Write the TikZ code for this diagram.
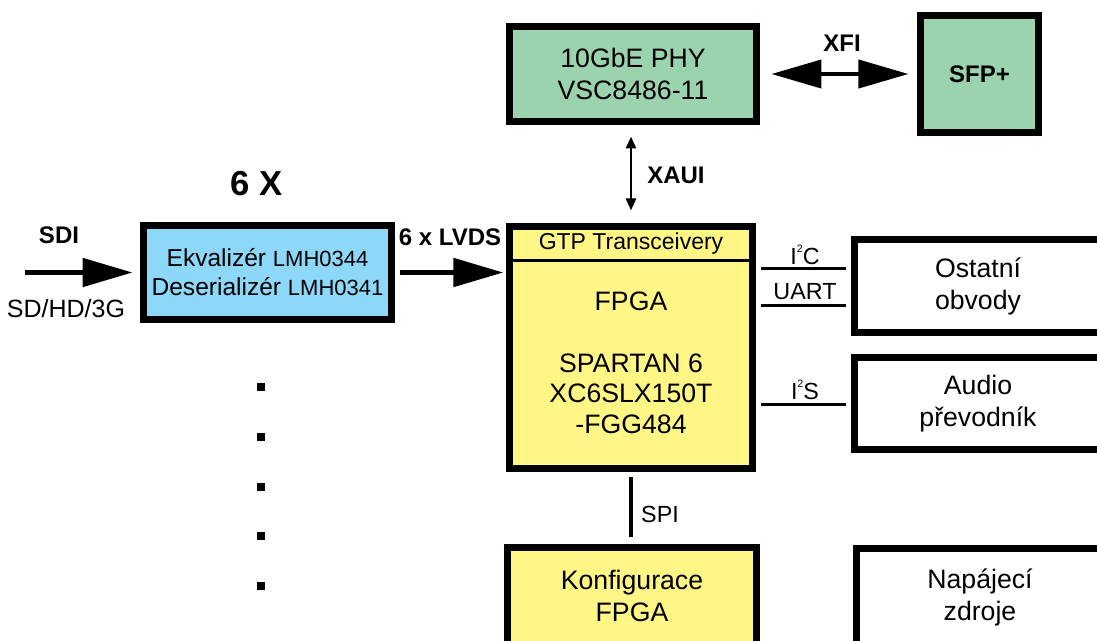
\documentclass[tikz,border=0pt]{standalone}
\usepackage{fontspec}
\setmainfont{Liberation Sans}
\usetikzlibrary{arrows.meta}
\definecolor{phygreen}{RGB}{155,211,174}
\definecolor{serblue}{RGB}{141,216,248}
\definecolor{fpgayellow}{RGB}{255,246,133}
\newcommand{\sq}[1]{\raisebox{0.5em}{\fontsize{8}{8}\selectfont #1}}
\newcommand{\chipfont}{\fontsize{16.5}{21.75}\selectfont}

\begin{document}
\begin{tikzpicture}[x=0.75pt, y=-0.75pt,
    block/.style={draw=black, line width=5.25pt, inner sep=0pt, align=center,
        font=\fontsize{20}{24}\selectfont},
    txt/.style={inner sep=0pt, align=center, font=\fontsize{17.5}{21}\selectfont},
    lbl/.style={inner sep=0pt, font=\fontsize{18}{21}\selectfont\bfseries},
    bus/.style={line width=2.25pt, shorten <=3.4pt, shorten >=3.4pt},
    bigarrow/.style={line width=3.75pt, -{Triangle[length=37.5pt, width=21pt]}},
    dot/.style={fill=black, minimum size=6pt, inner sep=0pt}
]
    \useasboundingbox (0,0) rectangle (1097,640);

    % blocks
    \node[block, fill=phygreen, minimum width=185.25pt, minimum height=71.25pt]
        (phy) at (633,74) {10GbE PHY\\VSC8486-11};
    \node[block, fill=phygreen, minimum width=88.5pt, minimum height=87.75pt,
        font=\fontsize{18}{21}\selectfont\bfseries] (sfp) at (979.5,74) {SFP+};
    \node[block, fill=serblue, minimum width=186pt, minimum height=70.5pt,
        font=\fontsize{18.4}{21.75}\selectfont]
        (deser) at (267.5,272.5) {Ekvalizér {\chipfont LMH0344}\\Deserializér {\chipfont LMH0341}};
    \node[block, fill=fpgayellow, minimum width=182.25pt, minimum height=181.5pt]
        (fpga) at (631,347.5) {};
    \node[block, fill=white, minimum width=185.25pt, minimum height=69.75pt]
        (ostatni) at (978,286) {Ostatní\\obvody};
    \node[block, fill=white, minimum width=185.25pt, minimum height=69pt]
        (audio) at (978,403.5) {Audio\\převodník};
    \node[block, fill=fpgayellow, minimum width=186.75pt, minimum height=72.75pt]
        (konfig) at (632,596) {Konfigurace\\FPGA};
    \node[block, fill=white, minimum width=185.25pt, minimum height=72.75pt]
        (napajeci) at (980,597) {Napájecí\\zdroje};

    % inside the FPGA
    \coordinate (gtp) at (631,260);
    \draw[line width=2.25pt] (gtp -| fpga.west) -- (gtp -| fpga.east);
    \node[txt, font=\fontsize{17.25}{21}\selectfont] (gtplbl) at (631,244) {GTP Transceivery};
    \node[txt, font=\fontsize{20}{23}\selectfont] (fpgalbl) at (631,363)
        {FPGA\\[23pt]SPARTAN 6\\XC6SLX150T\\-FGG484};

    % connections
    \draw[line width=3pt, {Triangle[length=37.5pt, width=21pt]}-{Triangle[length=37.5pt, width=21pt]},
        shorten <=8.6pt, shorten >=6.4pt] (phy.east) -- (sfp.west);
    \draw[line width=2pt, {Triangle[length=9pt, width=7.5pt]}-{Triangle[length=9pt, width=7.5pt]},
        shorten <=8.6pt, shorten >=9.4pt] (fpga.north |- phy.south) -- (fpga.north);
    \coordinate (sdiin) at (25,272.5);
    \draw[bigarrow, shorten >=5.6pt] (sdiin) -- (deser.west);
    \draw[bigarrow, shorten <=4pt, shorten >=2pt] (deser.east) -- (fpga.west |- deser.east);
    \coordinate (i2c) at (805,268);
    \coordinate (uart) at (805,305);
    \coordinate (i2s) at (805,404);
    \draw[bus] (i2c -| fpga.east) -- (i2c -| ostatni.west);
    \draw[bus] (uart -| fpga.east) -- (uart -| ostatni.west);
    \draw[bus] (i2s -| fpga.east) -- (i2s -| audio.west);
    \draw[line width=2.6pt, shorten <=4.1pt, shorten >=4.9pt] (fpga.south) -- (fpga.south |- konfig.north);

    % labels
    \node[lbl, font=\fontsize{26}{30}\selectfont\bfseries] (sixx) at (257,184) {6 X};
    \node[lbl] (sdi) at (59,235) {SDI};
    \node[txt, font=\fontsize{18.75}{22}\selectfont] (sdhd) at (66,309) {SD/HD/3G};
    \node[lbl] (lvds) at (450,237) {6 x LVDS};
    \node[lbl] (xfi) at (842,43) {XFI};
    \node[lbl] (xaui) at (676,175) {XAUI};
    \node[txt] (i2clbl) at (805,255) {I\sq{2}C};
    \node[txt] (uartlbl) at (805,292) {UART};
    \node[txt] (i2slbl) at (805,390) {I\sq{2}S};
    \node[txt] (spilbl) at (660,514) {SPI};

    % more channels
    \foreach \i in {0,...,4}
        \node[dot] (dot\i) at (261,{387+49.75*\i}) {};
\end{tikzpicture}
\end{document}
